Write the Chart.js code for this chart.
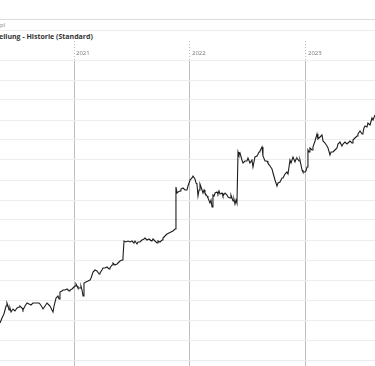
<!DOCTYPE html>
<html>
<head>
<meta charset="utf-8">
<script src="https://cdn.jsdelivr.net/npm/chart.js@4/dist/chart.umd.min.js"></script>
<style>
  html, body { margin: 0; padding: 0; background: #fff; width: 375px; height: 366px; overflow: hidden; }
  #bar { position: absolute; left: 0; top: 19px; width: 375px; height: 10px; border-top: 1px solid #dcdcdc; border-bottom: 1px solid #ececec; }
  #bar span { position: absolute; left: 0; top: 1px; font: 6px "Open Sans", sans-serif; color: #8a8a8a; }
  #title { position: absolute; left: -1px; top: 32px; font: bold 7px "Open Sans", sans-serif; color: #333; white-space: nowrap; }
  #wrap { position: absolute; left: 0; top: 40px; width: 375px; height: 326px; }
</style>
</head>
<body>
<div id="bar"><span>pl</span></div>
<div id="title">ellung - Historie (Standard)</div>
<div id="wrap"><canvas id="c" width="375" height="326"></canvas></div>
<script>
// x positions as decimal years
const dates = [
2020.362,2020.379,2020.396,2020.405,2020.414,2020.422,2020.431,2020.440,2020.448,2020.457,
2020.474,2020.491,2020.509,2020.526,2020.534,2020.552,2020.560,2020.578,2020.595,2020.612,
2020.629,2020.646,2020.664,2020.681,2020.698,2020.707,2020.724,2020.733,2020.750,2020.767,
2020.784,2020.793,2020.810,2020.819,2020.828,2020.845,2020.862,2020.871,2020.879,2020.896,
2020.905,2020.922,2020.940,2020.957,2020.965,2020.983,2020.991,2021.000,2021.009,2021.017,
2021.026,2021.034,2021.052,2021.060,2021.069,2021.078,2021.086,2021.103,2021.121,2021.138,
2021.147,2021.164,2021.181,2021.198,2021.216,2021.224,2021.241,2021.250,2021.267,2021.284,
2021.302,2021.310,2021.328,2021.336,2021.353,2021.371,2021.388,2021.397,2021.414,2021.422,
2021.431,2021.448,2021.466,2021.483,2021.500,2021.517,2021.526,2021.543,2021.552,2021.569,
2021.586,2021.603,2021.612,2021.629,2021.647,2021.655,2021.672,2021.681,2021.698,2021.716,
2021.724,2021.741,2021.759,2021.767,2021.784,2021.802,2021.819,2021.836,2021.853,2021.871,
2021.879,2021.888,2021.897,2021.914,2021.922,2021.940,2021.957,2021.974,2021.983,2022.000,
2022.017,2022.026,2022.043,2022.052,2022.060,2022.069,2022.078,2022.086,2022.095,2022.112,
2022.121,2022.129,2022.147,2022.155,2022.172,2022.181,2022.190,2022.198,2022.207,2022.216,
2022.233,2022.241,2022.250,2022.259,2022.276,2022.284,2022.302,2022.319,2022.328,2022.345,
2022.353,2022.371,2022.379,2022.388,2022.397,2022.405,2022.414,2022.422,2022.431,2022.448,
2022.457,2022.474,2022.491,2022.500,2022.517,2022.534,2022.543,2022.560,2022.578,2022.595,
2022.603,2022.612,2022.621,2022.629,2022.647,2022.664,2022.672,2022.690,2022.707,2022.716,
2022.733,2022.750,2022.759,2022.776,2022.793,2022.802,2022.819,2022.836,2022.845,2022.862,
2022.871,2022.888,2022.905,2022.914,2022.922,2022.940,2022.948,2022.966,2022.974,2022.991,
2023.000,2023.009,2023.017,2023.026,2023.034,2023.052,2023.060,2023.078,2023.095,2023.103,
2023.121,2023.138,2023.147,2023.164,2023.181,2023.190,2023.207,2023.216,2023.233,2023.250,
2023.267,2023.276,2023.293,2023.310,2023.319,2023.336,2023.353,2023.362,2023.379,2023.397,
2023.405,2023.422,2023.440,2023.448,2023.466,2023.483,2023.491,2023.500,2023.509,2023.526,
2023.534,2023.552,2023.569,2023.578,2023.595
];
const values = [
18.5,21,23,25,27,28.5,27,25,26,24,
25.5,24.5,26,26.5,27,26,25,27,28.5,28,
27.5,28.5,28.5,28.5,28.5,28,26.5,25.5,27,28.5,
27.5,27,25,24,27,31,32,30.5,34,34.5,
35,35,35.5,34.5,35,35.5,35.5,36.5,37,38,
37,36,36,37,35,32,38.5,39,39.5,40,
41,44,45,44.5,43,43.5,45,46,46,46.5,
45.5,46,47.5,48.5,47.5,48,49,49.5,50,51,
59.5,59,59.5,59,59.5,58.5,59.5,58,59,59,
60,60.5,61,60,60.5,60,59.5,60.5,59.5,58.5,
59.5,59,60,61,62,63,63.5,64,64.5,65.5,
86.5,83.5,84,84.5,85.5,86,85,85,87,90,
91,92,90.5,88.5,88,82,85,88,86.5,83.5,
85,83.5,82,81,78.5,80,76.5,82.5,82,83.5,
84,83,84.5,83,83.5,82,83.5,82.5,81.5,81,
82.5,79.5,80.5,78,80,78.5,104,102.5,103.5,100,
98.5,99.5,99.5,101,98.5,100,96.5,101.5,102,104,
104.5,105.5,106.5,102,99.5,99.5,98.5,97,95.5,93.5,
90,87,88.5,89,91,91,93,94,93,100,
98.5,101.5,99,100.5,101,99.5,100,95,94,94,
94.5,96.5,105,104,106,105,106.5,109.5,113,110.5,
111.5,112.5,109.5,108.5,107,106,102.5,104,104,105,
106,108,109,107,108,109,108,108.5,109.5,108.5,
110,111,112,113,114.5,113,113.5,116,117,116.5,
118.5,117.5,121,120,122.5
];
const yearTicks = [2021, 2022, 2023];
const xMin = 2020.362, xMax = 2023.595;
const yMin = -3, yMax = 150, yStep = 10;

const points = dates.map((d, i) => ({ x: d, y: values[i] }));

new Chart(document.getElementById('c'), {
  type: 'line',
  data: { datasets: [{ data: points, borderColor: '#1e1e1e', borderWidth: 1.1, pointRadius: 0, tension: 0, fill: false }] },
  options: {
    responsive: false,
    animation: false,
    devicePixelRatio: 1,
    layout: { padding: 0 },
    plugins: { legend: { display: false }, tooltip: { enabled: false }, title: { display: false } },
    scales: {
      x: {
        type: 'linear',
        position: 'top',
        min: xMin, max: xMax,
        afterBuildTicks: s => { s.ticks = yearTicks.map(v => ({ value: v })); },
        afterFit: s => { s.height = 20; },
        border: { display: false },
        grid: {
          color: '#bdbdbd', lineWidth: 1, borderDash: [1, 2],
          drawTicks: true, tickLength: 19, tickColor: '#bdbdbd', tickWidth: 1, tickBorderDash: [1, 2]
        },
        ticks: {
          autoSkip: false, maxRotation: 0, align: 'start', labelOffset: 2, padding: -15.6,
          color: '#777', font: { family: 'Open Sans', size: 6 },
          callback: v => String(v)
        }
      },
      y: {
        min: yMin, max: yMax,
        afterFit: s => { s.width = 0; },
        border: { display: false },
        grid: { color: '#ececec', lineWidth: 1, drawTicks: false },
        ticks: { display: false, stepSize: yStep, includeBounds: false }
      }
    }
  }
});
</script>
</body>
</html>
